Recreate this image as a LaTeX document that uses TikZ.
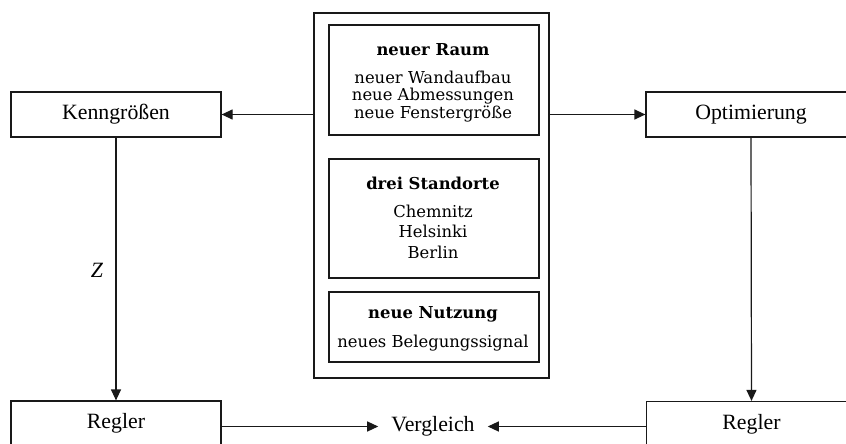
\documentclass[tikz,border=0pt]{standalone}
\usepackage{fontspec}
\setmainfont{Liberation Serif}
\newfontfamily\dvserif{DejaVu Serif}
\usetikzlibrary{arrows.meta}
\newcommand\innerfont{\dvserif\fontsize{16.4}{19}\selectfont}
\newcommand\outerfont{\fontsize{21.8}{25}\selectfont}
\tikzset{
  line/.style={line width=1.2pt, draw=black!90},
  arr/.style={line, -{Triangle[length=11pt,width=10pt]}},
  outerbox/.style={line, rectangle, minimum width=210pt, minimum height=45pt, inner sep=0pt,
    font=\outerfont, text height=14pt, text depth=4pt},
  innerbox/.style={line, rectangle, minimum width=210pt, inner sep=0pt},
  itxt/.style={anchor=base, inner sep=0pt, font=\innerfont},
}
\begin{document}
\begin{tikzpicture}[x=1pt,y=-1pt]
\useasboundingbox (0,0) rectangle (846,444);
\clip (0,0) rectangle (846,444);
% outer frame
\node[line, rectangle, minimum width=235pt, minimum height=365pt, inner sep=0pt] (frame) at (431.5,195.5) {};
\node[innerbox, minimum height=110pt] (b1) at (434,80) {};
\node[innerbox, minimum height=119pt] (b2) at (434,218.5) {};
\node[innerbox, minimum height=70pt] (b3) at (434,327) {};
% texts inside
\node[itxt] (t11) at (433,56) {\bfseries neuer Raum};
\node[itxt] (t12) at (433,84) {neuer Wandaufbau};
\node[itxt] (t13) at (433,100) {neue Abmessungen};
\node[itxt] (t14) at (433,118) {neue Fenstergröße};
\node[itxt] (t21) at (433,189) {\bfseries drei Standorte};
\node[itxt] (t22) at (433,217) {Chemnitz};
\node[itxt] (t23) at (433,237) {Helsinki};
\node[itxt] (t24) at (433,258) {Berlin};
\node[itxt] (t31) at (433,318) {\bfseries neue Nutzung};
\node[itxt] (t32) at (433,347) {neues Belegungssignal};
% side boxes
\node[outerbox] (ken) at (116,114.5) {Kenngrößen};
\node[outerbox] (opt) at (751,114.5) {Optimierung};
\node[outerbox] (regL) at (116,423.5) {Regler};
\node[outerbox] (regR) at (751.5,424) {Regler};
\node[inner sep=0pt, font=\outerfont, text height=14pt, text depth=4pt, inner xsep=13pt] (vgl) at (433,426.5) {Vergleich};
\node[font=\outerfont\itshape, inner sep=0pt] (z) at (97,270) {Z};
% connectors
\draw[arr] (frame.west |- ken.east) -- (ken.east);
\draw[arr] (frame.east |- opt.west) -- (opt.west);
\draw[arr] (ken.south) -- (regL.north);
\draw[arr] (opt.south) -- (regR.north);
\draw[arr] (regL.east |- vgl.west) -- (vgl.west);
\draw[arr] (regR.west |- vgl.east) -- (vgl.east);
\end{tikzpicture}
\end{document}
